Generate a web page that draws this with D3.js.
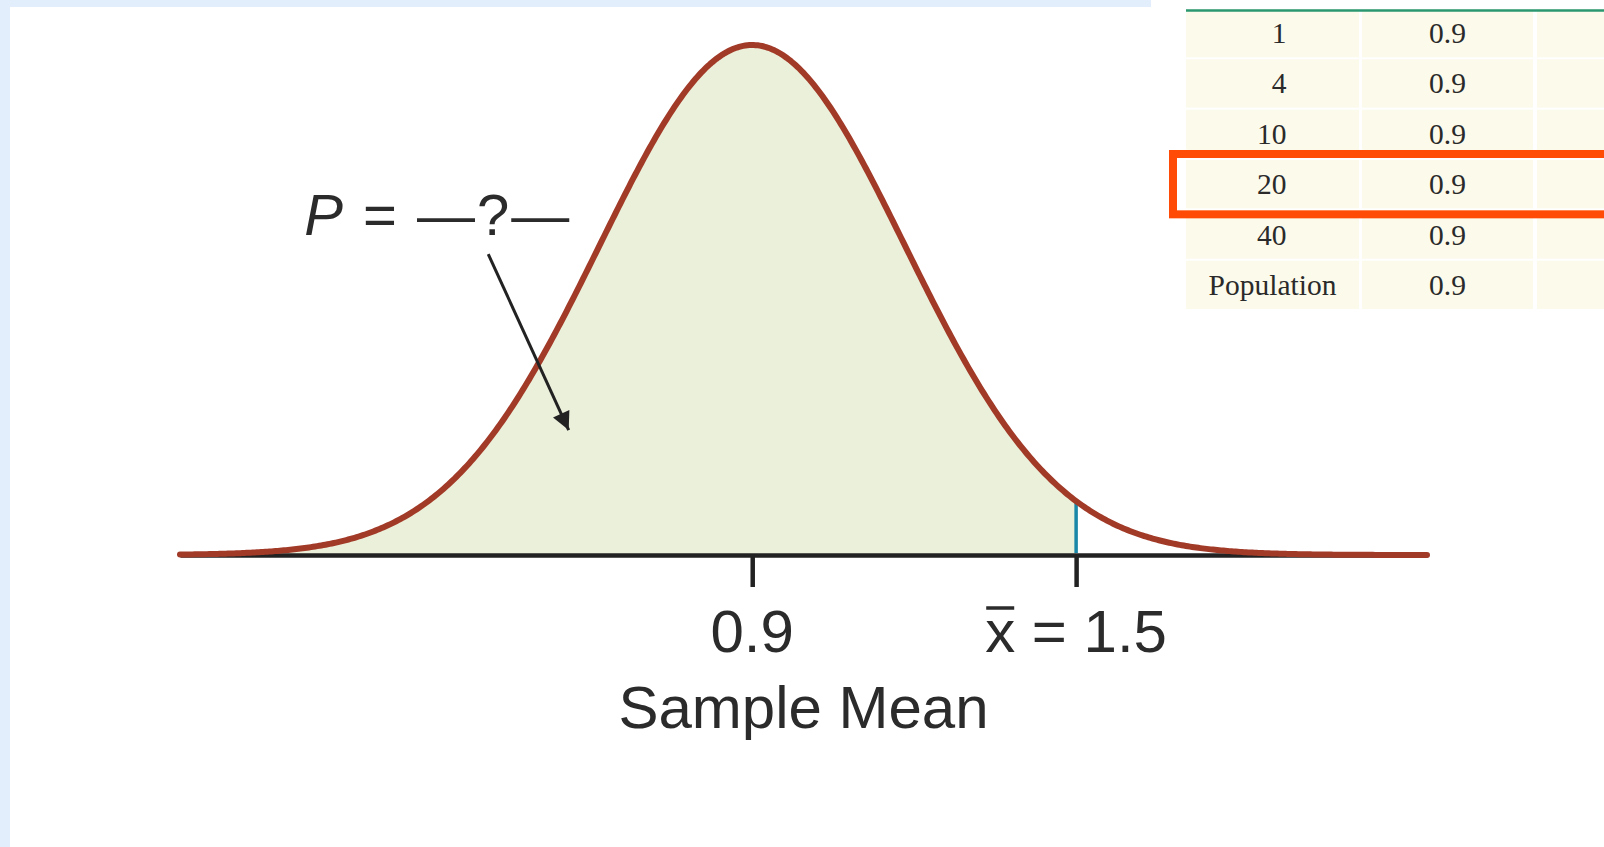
<!DOCTYPE html>
<html>
<head>
<meta charset="utf-8">
<script src="https://cdn.jsdelivr.net/npm/d3@7"></script>
<style>
  html, body { margin: 0; padding: 0; background: #ffffff; }
  svg { display: block; }
</style>
</head>
<body>
<svg id="chart" width="1604" height="847"></svg>
<script>
// Sampling distribution of the sample mean (n = 20)
const populationMean = 0.9;
const standardError = 0.283;
const observedMean = 1.5;
const curveExtent = [-0.16, 2.15];
const tickValues = [0.9, 1.5];
const tickLabels = ["0.9", "= 1.5"];
const axisTitle = "Sample Mean";
const annotationText = "= \u2014?\u2014";

// Table of sample sizes and the mean of each sampling distribution
const sampleSizes = ["1", "4", "10", "20", "40", "Population"];
const sampleMeans = ["0.9", "0.9", "0.9", "0.9", "0.9", "0.9"];
const highlightedSize = "20";

const W = 1604, H = 847;
const svg = d3.select("#chart");

// page frame
svg.append("rect").attr("x", 0).attr("y", 0).attr("width", W).attr("height", H).attr("fill", "#ffffff");
svg.append("rect").attr("x", 0).attr("y", 0).attr("width", 10).attr("height", H).attr("fill", "#e2eefc");
svg.append("rect").attr("x", 0).attr("y", 0).attr("width", 1151).attr("height", 7).attr("fill", "#e2eefc");

const pdf = x => Math.exp(-0.5 * Math.pow((x - populationMean) / standardError, 2)) /
  (standardError * Math.sqrt(2 * Math.PI));

const x = d3.scaleLinear().domain(curveExtent).range([180, 1427]);
const y = d3.scaleLinear().domain([0, pdf(populationMean)]).range([555, 45]);

const samples = d3.range(0, 601).map(i => curveExtent[0] + (curveExtent[1] - curveExtent[0]) * i / 600);
const shaded = samples.filter(v => v <= observedMean).concat([observedMean]);

// shaded area left of the observed mean
svg.append("path")
  .datum(shaded)
  .attr("d", d3.area().x(d => x(d)).y0(y(0)).y1(d => y(pdf(d))))
  .attr("fill", "#ebf0db");

// axis line and ticks
const axis = d3.axisBottom(x).tickValues(tickValues).tickSize(32).tickSizeOuter(0).tickFormat("");
const gAxis = svg.append("g").attr("transform", `translate(0,${y(0)})`).call(axis);
gAxis.select(".domain").attr("stroke", "#222222").attr("stroke-width", 4.5);
gAxis.selectAll(".tick line").attr("stroke", "#222222").attr("stroke-width", 4.5);

// marker at the observed mean
svg.append("line")
  .attr("x1", x(observedMean)).attr("x2", x(observedMean))
  .attr("y1", y(pdf(observedMean))).attr("y2", y(0) - 2)
  .attr("stroke", "#1a86a8").attr("stroke-width", 3.5);

// density curve
svg.append("path")
  .datum(samples)
  .attr("d", d3.line().x(d => x(d)).y(d => y(pdf(d))))
  .attr("fill", "none")
  .attr("stroke", "#a23a28")
  .attr("stroke-width", 6)
  .attr("stroke-linecap", "round")
  .attr("stroke-linejoin", "round");

// tick labels
const labelFont = "'Liberation Sans', Arial, Helvetica, sans-serif";
svg.append("text")
  .attr("x", x(tickValues[0])).attr("y", 652)
  .attr("text-anchor", "middle")
  .attr("font-family", labelFont).attr("font-size", 60).attr("fill", "#2b2b2b")
  .text(tickLabels[0]);

const xbarLabel = svg.append("text")
  .attr("x", x(tickValues[1])).attr("y", 652)
  .attr("text-anchor", "middle")
  .attr("font-family", labelFont).attr("font-size", 60).attr("fill", "#2b2b2b");
xbarLabel.append("tspan").text("x");
xbarLabel.append("tspan").text(" " + tickLabels[1]);
const xExt = xbarLabel.node().getExtentOfChar(0);
svg.append("line")
  .attr("x1", xExt.x + 1).attr("x2", xExt.x + xExt.width - 1)
  .attr("y1", 608).attr("y2", 608)
  .attr("stroke", "#2b2b2b").attr("stroke-width", 3.5);

svg.append("text")
  .attr("x", (x.range()[0] + x.range()[1]) / 2).attr("y", 728)
  .attr("text-anchor", "middle")
  .attr("font-family", labelFont).attr("font-size", 60).attr("fill", "#2b2b2b")
  .text(axisTitle);

// probability annotation with arrow
const ann = svg.append("text")
  .attr("x", x(0.07)).attr("y", y(pdf(populationMean) * 0.627))
  .attr("font-family", labelFont).attr("font-size", 58).attr("fill", "#2b2b2b")
  .attr("letter-spacing", 2);
ann.append("tspan").attr("font-style", "italic").text("P");
ann.append("tspan").text(" " + annotationText);

svg.append("defs").append("marker")
  .attr("id", "arrowhead")
  .attr("viewBox", "0 0 10 10")
  .attr("refX", 10).attr("refY", 5)
  .attr("markerUnits", "userSpaceOnUse")
  .attr("markerWidth", 28).attr("markerHeight", 18)
  .attr("orient", "auto")
  .append("path").attr("d", "M0,0 L10,5 L0,10 Z").attr("fill", "#222222");

svg.append("line")
  .attr("x1", x(0.411)).attr("y1", y(pdf(populationMean) * 0.59))
  .attr("x2", x(0.56)).attr("y2", y(pdf(populationMean) * 0.245))
  .attr("stroke", "#222222").attr("stroke-width", 3)
  .attr("marker-end", "url(#arrowhead)");

// table
const tableFont = "'Liberation Serif', 'Times New Roman', serif";
const cols = [{x0: 1186, x1: 1359}, {x0: 1362, x1: 1533}, {x0: 1537, x1: 1640}];
const rowY = d3.scaleBand().domain(sampleSizes).range([9, 309]).paddingInner(0.04);

const rows = svg.append("g").selectAll("g").data(sampleSizes).join("g");
cols.forEach(c => {
  rows.append("rect")
    .attr("x", c.x0).attr("y", d => rowY(d))
    .attr("width", c.x1 - c.x0).attr("height", rowY.bandwidth())
    .attr("fill", "#fcfaeb");
});
rows.append("text")
  .attr("x", d => isNaN(+d) ? (cols[0].x0 + cols[0].x1) / 2 : (cols[0].x0 + cols[0].x1) / 2 + 14)
  .attr("y", d => rowY(d) + rowY.bandwidth() / 2 + 10)
  .attr("text-anchor", d => isNaN(+d) ? "middle" : "end")
  .attr("font-family", tableFont).attr("font-size", 29.5).attr("fill", "#2a2a2a")
  .text(d => d);
rows.append("text")
  .attr("x", (cols[1].x0 + cols[1].x1) / 2)
  .attr("y", d => rowY(d) + rowY.bandwidth() / 2 + 10)
  .attr("text-anchor", "middle")
  .attr("font-family", tableFont).attr("font-size", 29.5).attr("fill", "#2a2a2a")
  .text((d, i) => sampleMeans[i]);

svg.append("line")
  .attr("x1", 1186).attr("x2", W).attr("y1", 10.5).attr("y2", 10.5)
  .attr("stroke", "#2a9770").attr("stroke-width", 2.5);

// highlighted row
svg.append("rect")
  .attr("x", 1173).attr("y", rowY(highlightedSize) - 6)
  .attr("width", 500).attr("height", rowY.bandwidth() + 12)
  .attr("fill", "none").attr("stroke", "#ff4b05").attr("stroke-width", 8);
</script>
</body>
</html>
